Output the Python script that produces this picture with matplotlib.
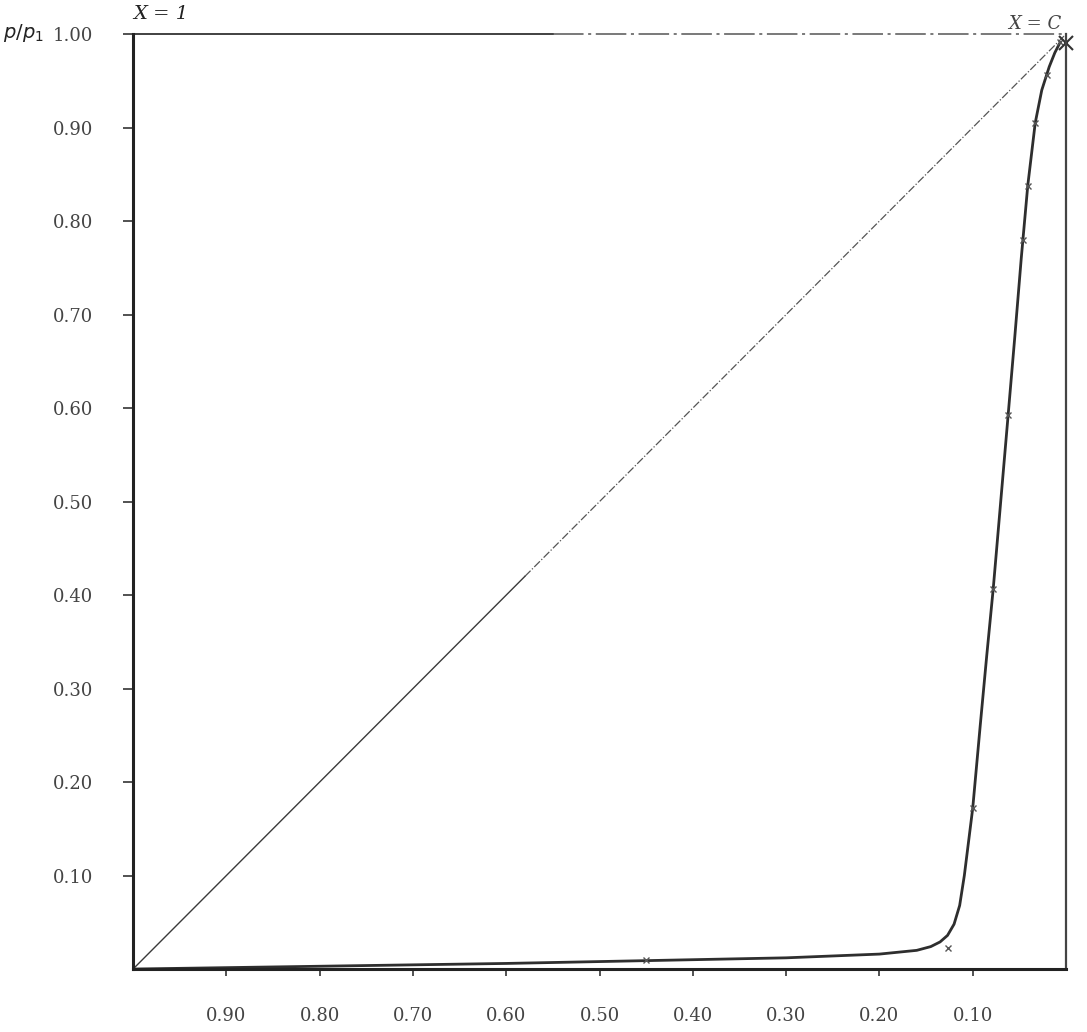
import numpy as np
import matplotlib.pyplot as plt

# curve (x runs from 1 on the left to 0 on the right)
curve_x = [1.0, 0.80, 0.60, 0.45, 0.30, 0.20, 0.16, 0.145, 0.135, 0.127,
           0.120, 0.114, 0.109, 0.104, 0.100, 0.092, 0.085, 0.078, 0.070,
           0.062, 0.055, 0.048, 0.041, 0.033, 0.026, 0.018, 0.012, 0.0064]
curve_y = [0.0, 0.003, 0.006, 0.009, 0.012, 0.016, 0.020, 0.024, 0.029, 0.036,
           0.048, 0.068, 0.100, 0.140, 0.172, 0.260, 0.335, 0.407, 0.500,
           0.593, 0.675, 0.760, 0.838, 0.905, 0.940, 0.965, 0.980, 0.991]

# measured points (crosses)
pts_x = [0.0064, 0.020, 0.033, 0.041, 0.046, 0.062, 0.078, 0.100, 0.126, 0.45]
pts_y = [0.991, 0.956, 0.905, 0.838, 0.780, 0.593, 0.407, 0.172, 0.022, 0.010]

yticks = [0.10, 0.20, 0.30, 0.40, 0.50, 0.60, 0.70, 0.80, 0.90, 1.00]
xticks = [0.90, 0.80, 0.70, 0.60, 0.50, 0.40, 0.30, 0.20, 0.10]

fig = plt.figure(figsize=(10.87, 10.32), dpi=100)
ax = fig.add_axes([0.1224, 0.061, 0.8583, 0.906])

ax.set_xlim(1.0, 0.0)
ax.set_ylim(0.0, 1.0)

# diagonal, solid lower part then dash-dot
ax.plot([1.0, 0.58], [0.0, 0.42], color="#3a3a3a", lw=1.0)
ax.plot([0.58, 0.0], [0.42, 1.0], color="#555555", lw=0.9, ls="-.")

# top edge: solid then broken
ax.plot([1.0, 0.55], [1.0, 1.0], color="#333333", lw=1.3, clip_on=False)
ax.plot([0.55, 0.0], [1.0, 1.0], color="#555555", lw=1.1, ls=(0, (20, 3, 2, 3)),
        clip_on=False)

ax.plot(curve_x, curve_y, color="#2e2e2e", lw=2.0)
ax.plot(pts_x, pts_y, ls="none", marker="x", ms=5, mew=1.0, color="#555555")
ax.plot([0.0], [0.99], ls="none", marker="x", ms=10, mew=1.5, color="#333333",
        clip_on=False)

for s in ["left", "bottom"]:
    ax.spines[s].set_linewidth(2.2)
    ax.spines[s].set_color("#222222")
ax.spines["right"].set_linewidth(1.6)
ax.spines["right"].set_color("#444444")
ax.spines["top"].set_visible(False)

font = {"family": "DejaVu Serif", "size": 13, "color": "#444444"}
ax.set_yticks(yticks)
ax.set_yticklabels([f"{v:.2f}" for v in yticks], fontdict=font)
ax.set_xticks(xticks)
ax.set_xticklabels([f"{v:.2f}" for v in xticks], fontdict=font)
ax.tick_params(axis="y", direction="out", length=7, width=1.2, pad=22,
               color="#333333")
ax.tick_params(axis="x", direction="out", length=5, width=1.2, pad=22,
               color="#333333")

fig.text(0.003, 1 - 33 / 1032, r"$p/p_1$", fontsize=14, family="DejaVu Serif",
         va="center", ha="left", color="#222222")
fig.text(133 / 1087, 1 - 14 / 1032, "X = 1", fontsize=14, style="italic",
         family="DejaVu Serif", va="center", ha="left", color="#222222")
fig.text(1008 / 1087, 1 - 24 / 1032, "X = C", fontsize=13, style="italic",
         family="DejaVu Serif", va="center", ha="left", color="#444444")

fig.savefig("out.png", dpi=100, facecolor="white")
